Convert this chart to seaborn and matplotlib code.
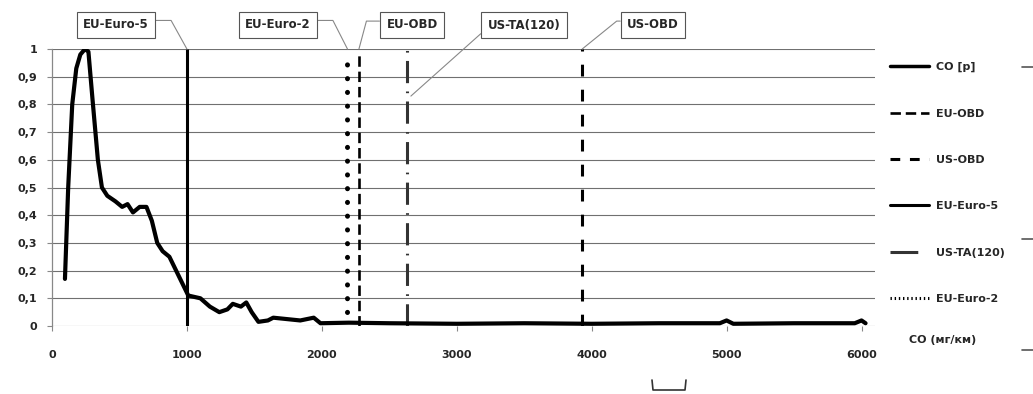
import matplotlib
matplotlib.use("Agg")
from matplotlib import pyplot as plt
import matplotlib.ticker as mtick
from matplotlib.lines import Line2D
import seaborn as sns

# CO emission curve (normalised)
co_x = [96, 120, 150, 180, 210, 245, 270, 300, 340, 370, 410, 470, 520, 560,
        600, 650, 700, 740, 780, 820, 870, 920, 970, 1010, 1100, 1170, 1240,
        1300, 1340, 1400, 1440, 1480, 1530, 1600, 1640, 1740, 1840, 1940,
        1990, 2200, 2500, 3000, 3500, 4000, 4500, 4950, 5000, 5050, 5500,
        5950, 6000, 6030]
co_y = [0.17, 0.5, 0.8, 0.93, 0.98, 1.0, 0.99, 0.82, 0.6, 0.5, 0.47, 0.45,
        0.43, 0.44, 0.41, 0.43, 0.43, 0.38, 0.3, 0.27, 0.25, 0.2, 0.15, 0.11,
        0.1, 0.07, 0.05, 0.06, 0.08, 0.07, 0.085, 0.05, 0.015, 0.02, 0.03,
        0.025, 0.02, 0.03, 0.01, 0.012, 0.01, 0.008, 0.01, 0.008, 0.01, 0.01,
        0.02, 0.008, 0.01, 0.01, 0.02, 0.01]

# emission limits
limit_names = ["EU-Euro-5", "EU-Euro-2", "EU-OBD", "US-TA(120)", "US-OBD"]
limit_x = [1000, 2190, 2275, 2630, 3930]
limit_top = [1.0, 0.96, 0.98, 1.0, 1.0]
limit_bottom = [0, 0.05, 0, 0, 0]

legend_order = ["CO [p]", "EU-OBD", "US-OBD", "EU-Euro-5", "US-TA(120)", "EU-Euro-2"]
x_ticks = [0, 1000, 2000, 3000, 4000, 5000, 6000]
y_ticks = [0, 0.1, 0.2, 0.3, 0.4, 0.5, 0.6, 0.7, 0.8, 0.9, 1]
x_title = "CO (мг/км)"

sns.set_style("white")
plt.rcParams['font.family'] = ['DejaVu Sans']
plt.rcParams['lines.scale_dashes'] = False
FS = 8

styles = {
    "EU-Euro-5": dict(color="black", lw=2.2, linestyle="-"),
    "EU-Euro-2": dict(color="black", lw=3.6, linestyle=(0, (0.1, 9.8)), capstyle="round"),
    "EU-OBD": dict(color="black", lw=1.9, linestyle=(0, (7.5, 3.5))),
    "US-TA(120)": dict(color="#333333", lw=2.2, linestyle=(0, (16, 6, 1.2, 6))),
    "US-OBD": dict(color="black", lw=2.2, linestyle=(0, (8.5, 9.5))),
}
legend_styles = {
    "EU-Euro-2": (0, (1, 2)),
    "US-TA(120)": (0, (20, 40)),
    "US-OBD": (0, (7, 7)),
}

fig = plt.figure(figsize=(10.33, 3.94), dpi=100)
ax = fig.add_axes([52 / 1033, 68 / 394, (875 - 52) / 1033, (326 - 49) / 394])

handles = {}
sns.lineplot(x=co_x, y=co_y, ax=ax, color="black", lw=3.0, estimator=None,
             sort=False, zorder=4)
handles["CO [p]"] = Line2D([], [], color="black", lw=2.5)

for name, x, top, bot in zip(limit_names, limit_x, limit_top, limit_bottom):
    st = styles[name]
    coll = ax.vlines(x, bot, top, colors=st["color"], lw=st["lw"],
                     linestyles=st["linestyle"], zorder=3)
    if "capstyle" in st:
        coll.set_capstyle("round")
    handles[name] = Line2D([], [], color=st["color"], lw=min(st["lw"], 2.2),
                           linestyle=legend_styles.get(name, st["linestyle"]))

ax.set_xlim(0, 6100)
ax.set_ylim(0, 1)
ax.set_xticks(x_ticks)
ax.set_yticks(y_ticks)
ax.yaxis.set_major_formatter(mtick.FuncFormatter(lambda v, p: f"{v:g}".replace(".", ",")))
ax.tick_params(axis="both", labelsize=FS, length=3.6, color="#888888", width=0.8,
               direction="out", left=True, bottom=True)
ax.tick_params(axis="x", pad=14)
ax.tick_params(axis="y", pad=7)
for lab in ax.get_xticklabels() + ax.get_yticklabels():
    lab.set_fontweight("bold")
ax.grid(axis="y", color="#707070", lw=0.8)
ax.set_axisbelow(True)
for s in ["top", "right", "bottom"]:
    ax.spines[s].set_visible(False)
ax.spines["left"].set_color("#888888")
ax.spines["left"].set_linewidth(0.9)

# labels above limits with leader lines
label_pos = {
    "EU-Euro-5": ((116, 369), (1, 0.85), "angle,angleA=0,angleB=119,rad=0"),
    "EU-Euro-2": ((278, 369), (1, 0.85), "angle,angleA=0,angleB=117,rad=0"),
    "EU-OBD": ((412, 369), (0, 0.8), "angle,angleA=0,angleB=75,rad=0"),
    "US-TA(120)": ((524, 369), (0, 0.3), "arc3,rad=0"),
    "US-OBD": ((653, 369), (0, 0.8), "angle,angleA=0,angleB=39,rad=0"),
}
targets = {"EU-Euro-5": 1.0, "EU-Euro-2": 1.0, "EU-OBD": 1.0, "US-TA(120)": 0.83, "US-OBD": 1.0}
for name, x in zip(limit_names, limit_x):
    pos, rel, conn = label_pos[name]
    tx = x + 30 if name == "US-TA(120)" else x
    ax.annotate(name, xy=(tx, targets[name]), xytext=pos, textcoords="figure pixels",
                ha="center", va="center", fontsize=8.5, fontweight="bold",
                bbox=dict(boxstyle="square,pad=0.55", fc="white", ec="#555555", lw=0.8),
                arrowprops=dict(arrowstyle="-", color="#888888", lw=0.8, shrinkA=0,
                                shrinkB=0, relpos=rel, connectionstyle=conn),
                annotation_clip=False)

leg = ax.legend([handles[n] for n in legend_order], legend_order,
                loc="upper left", bbox_to_anchor=(880 / 1033, 1 - 52 / 394),
                bbox_transform=fig.transFigure, frameon=False, fontsize=FS,
                handlelength=3.5, handletextpad=0.6, labelspacing=3.27)
for t in leg.get_texts():
    t.set_fontweight("bold")

fig.text(943 / 1033, 1 - 340 / 394, x_title, ha="center", va="center",
         fontsize=FS, fontweight="bold")

# small decorative marks at the edge and the bracket below
for yy in [67, 239, 350]:
    fig.add_artist(Line2D([1022 / 1033, 1033 / 1033], [1 - yy / 394] * 2,
                          color="#555555", lw=1.2))
fig.add_artist(Line2D([652 / 1033, 653 / 1033, 685 / 1033, 686 / 1033],
                      [1 - 380 / 394, 1 - 390 / 394, 1 - 390 / 394, 1 - 380 / 394],
                      color="#333333", lw=1.2))

fig.savefig("out.png", dpi=100)
